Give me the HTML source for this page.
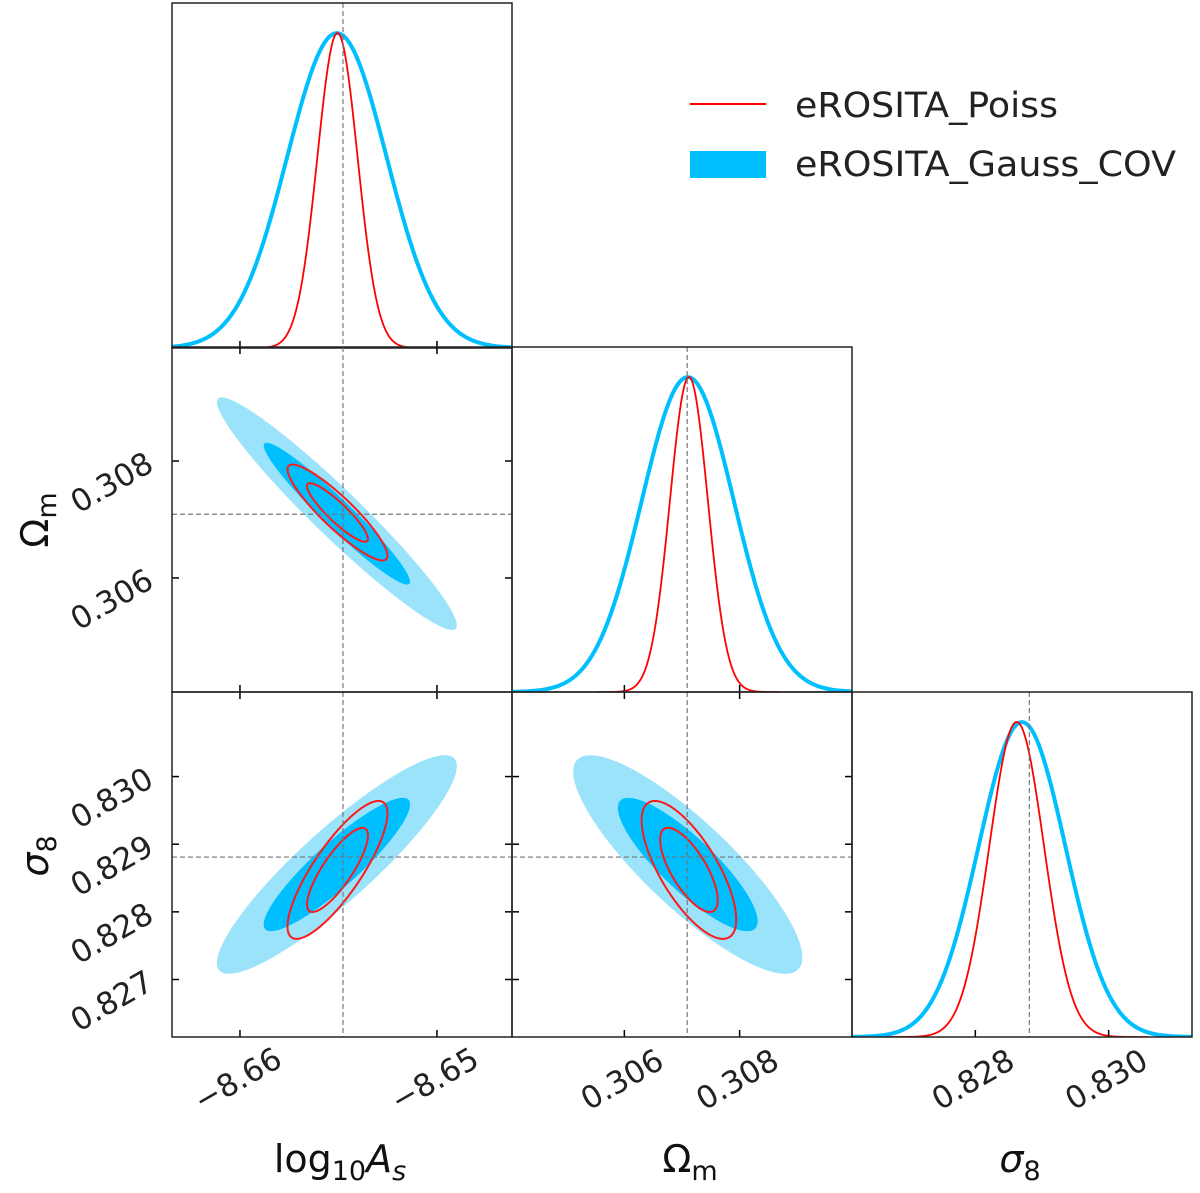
<!DOCTYPE html>
<html><head><meta charset="utf-8"><style>
html,body{margin:0;padding:0;background:#fff;}
svg{display:block;font-family:"DejaVu Sans","Liberation Sans",sans-serif;}
</style></head><body>
<svg id="c" width="1200" height="1193" viewBox="0 0 1200 1193" xmlns="http://www.w3.org/2000/svg">
<g id="legend">
<line x1="690" y1="104" x2="766" y2="104" stroke="#ff0000" stroke-width="2"/>
<text x="795" y="117" font-size="35" textLength="263" lengthAdjust="spacingAndGlyphs" fill="#222">eROSITA_Poiss</text>
<rect x="690" y="151" width="76" height="27" fill="#00bfff"/>
<text x="795" y="176" font-size="35" textLength="381" lengthAdjust="spacingAndGlyphs" fill="#222">eROSITA_Gauss_COV</text>
</g>
</svg>
<script>
const paramNames = ['log10As', 'Om', 's8'];
const truthValues = [-8.65477, 0.30709, 0.82881];
const gaussMean = [-8.65508, 0.30710, 0.82870];
const gaussSigma = [0.00245, 0.00080, 0.00065];
const poissMean = [-8.65505, 0.30712, 0.82862];
const poissSigma = [0.00102, 0.00033, 0.00041];
const gaussCorr = [[1, -0.96, 0.90], [-0.96, 1, -0.85], [0.90, -0.85, 1]];
const poissCorr = [[1, -0.90, 0.82], [-0.90, 1, -0.72], [0.82, -0.72, 1]];
const axisRanges = [[-8.66345, -8.64619], [0.30405, 0.30995], [0.82615, 0.83125]];
const xTickValues = [[-8.66, -8.65], [0.306, 0.308], [0.828, 0.830]];
const xTickLabels = [['\u22128.66', '\u22128.65'], ['0.306', '0.308'], ['0.828', '0.830']];
const yTickValues = [[], [0.306, 0.308], [0.827, 0.828, 0.829, 0.830]];
const yTickLabels = [[], ['0.306', '0.308'], ['0.827', '0.828', '0.829', '0.830']];
const contourLevels = [Math.sqrt(6.18), Math.sqrt(2.30)];

const NS = 'http://www.w3.org/2000/svg';
const svg = document.getElementById('c');
const colX = [172, 512, 852], rowY = [3, 347, 692], PW = 340, PH = 345;
function mk(tag, attrs, parent) {
  const e = document.createElementNS(NS, tag);
  for (const k in attrs) e.setAttribute(k, attrs[k]);
  (parent || svg).appendChild(e);
  return e;
}
function sx(p, v) { const r = axisRanges[p]; return colX[p] + (v - r[0]) / (r[1] - r[0]) * PW; }
function sy(p, row, v) { const r = axisRanges[p]; return rowY[row] + PH - (v - r[0]) / (r[1] - r[0]) * PH; }

const legend = document.getElementById('legend');
for (let row = 0; row < 3; row++) {
  for (let col = 0; col <= row; col++) {
    const g = mk('g', {}, svg);
    
    
    const cid = 'clip' + row + col;
    const cp = mk('clipPath', {id: cid}, g);
    mk('rect', {x: colX[col], y: rowY[row], width: PW, height: PH}, cp);
    const inner = mk('g', {'clip-path': 'url(#' + cid + ')'}, g);
    if (row === col) {
      const p = col;
      const top = rowY[row] + 30, base = rowY[row] + PH;
      const series = [[gaussMean, gaussSigma, '#00bfff', 4, 10, 'gauss'], [poissMean, poissSigma, '#ff0000', 1.8, 4.8, 'poiss']];
      series.forEach(s => {
        const m = s[0][p], sg = s[1][p] * (s[5] === 'gauss' && p === 0 ? 1.03 : 1);
        let d = '';
        for (let i = 0; i <= 300; i++) {
          const v = m - s[4] * sg + i / 300 * 2 * s[4] * sg;
          const y = base - Math.exp(-0.5 * ((v - m) / sg) ** 2) * (base - top);
          d += (i ? 'L' : 'M') + sx(p, v).toFixed(2) + ',' + y.toFixed(2);
        }
        const path = mk('path', {d: d, fill: 'none', stroke: s[2], 'stroke-width': s[3]}, inner);
        
        
      });
    } else {
      const px = col, py = row;
      const sets = [[gaussMean, gaussSigma, gaussCorr, 'gauss'], [poissMean, poissSigma, poissCorr, 'poiss']];
      sets.forEach(s => {
        contourLevels.forEach((r, li) => {
          const mx = s[0][px], my = s[0][py], sgx = s[1][px], sgy = s[1][py], rho = s[2][px][py];
          let d = '';
          for (let i = 0; i <= 200; i++) {
            const t = i / 200 * 2 * Math.PI;
            const vx = mx + r * sgx * Math.cos(t);
            const vy = my + r * sgy * (rho * Math.cos(t) + Math.sqrt(1 - rho * rho) * Math.sin(t));
            d += (i ? 'L' : 'M') + sx(px, vx).toFixed(2) + ',' + sy(py, row, vy).toFixed(2);
          }
          d += 'Z';
          let el;
          if (s[3] === 'gauss') el = mk('path', {d: d, fill: li === 0 ? '#9be3fa' : '#00bfff', stroke: 'none'}, inner);
          else el = mk('path', {d: d, fill: 'none', stroke: '#ff1a1a', 'stroke-width': 2}, inner);
          
          
        });
      });
      const hy = sy(py, row, truthValues[py]);
      const hl = mk('line', {x1: colX[col], x2: colX[col] + PW, y1: hy, y2: hy, stroke: '#777', 'stroke-width': 1.2, 'stroke-dasharray': '5,3'}, inner);
      
      
    }
    const vx = sx(col, truthValues[col]);
    const vl = mk('line', {x1: vx, x2: vx, y1: rowY[row], y2: rowY[row] + PH, stroke: '#777', 'stroke-width': 1.2, 'stroke-dasharray': '5,3'}, inner);
    
    
    xTickValues[col].forEach(v => {
      const x = sx(col, v);
      mk('line', {x1: x, x2: x, y1: rowY[row] + PH, y2: rowY[row] + PH - 7, stroke: '#000', 'stroke-width': 1.5}, g);
      if (row !== col) mk('line', {x1: x, x2: x, y1: rowY[row], y2: rowY[row] + 7, stroke: '#000', 'stroke-width': 1.5}, g);
    });
    if (row !== col) {
      yTickValues[row].forEach(v => {
        const y = sy(row, row, v);
        mk('line', {x1: colX[col], x2: colX[col] + 7, y1: y, y2: y, stroke: '#000', 'stroke-width': 1.5}, g);
        mk('line', {x1: colX[col] + PW, x2: colX[col] + PW - 7, y1: y, y2: y, stroke: '#000', 'stroke-width': 1.5}, g);
      });
    }
    const frame = mk('rect', {x: colX[col], y: rowY[row], width: PW, height: PH, fill: 'none', stroke: '#222', 'stroke-width': 1.5}, g);
    
    
    if (row === 2) {
      xTickValues[col].forEach((v, i) => {
        const x = sx(col, v) - 2, y = 1080;
        const t = mk('text', {x: x, y: y + 10, 'font-size': 31, 'text-anchor': 'middle', fill: '#222', transform: 'rotate(-30 ' + x + ' ' + y + ')'}, g);
        t.textContent = xTickLabels[col][i];
        
        
      });
    }
    if (col === 0 && row > 0) {
      yTickValues[row].forEach((v, i) => {
        const x = 112, y = sy(row, row, v) + 22;
        const t = mk('text', {x: x, y: y + 10, 'font-size': 31, 'text-anchor': 'middle', fill: '#222', transform: 'rotate(-30 ' + x + ' ' + y + ')'}, g);
        t.textContent = yTickLabels[row][i];
        
        
      });
    }
  }
}
svg.appendChild(legend);
function title(html, x, y, rot, name) {
  const t = mk('text', {x: x, y: y, 'font-size': 38, 'text-anchor': 'middle', fill: '#111'});
  if (rot) t.setAttribute('transform', 'rotate(-90 ' + x + ' ' + (y - 12) + ')');
  t.innerHTML = html;
  
  
}
title('log<tspan font-size="27" dy="8">10</tspan><tspan font-style="italic" dy="-8">A</tspan><tspan font-size="27" font-style="italic" dy="8">s</tspan>', 340, 1172, false, 'x-axis-title-log10as');
title('Ω<tspan font-size="27" dy="8">m</tspan>', 690, 1172, false, 'x-axis-title-omega-m');
title('<tspan font-style="italic">σ</tspan><tspan font-size="27" dy="8">8</tspan>', 1020, 1172, false, 'x-axis-title-sigma8');
title('Ω<tspan font-size="27" dy="8">m</tspan>', 36, 532, true, 'y-axis-title-omega-m');
title('<tspan font-style="italic">σ</tspan><tspan font-size="27" dy="8">8</tspan>', 36, 868, true, 'y-axis-title-sigma8');
</script>
</body></html>
